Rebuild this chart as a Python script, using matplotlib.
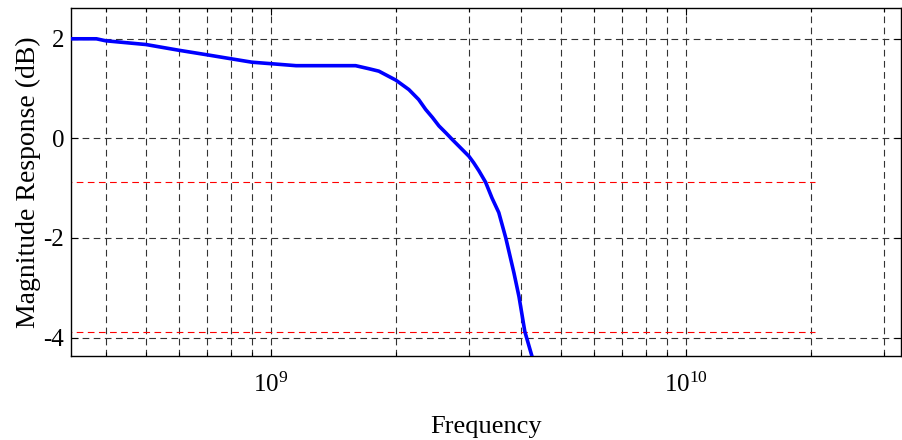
import numpy as np
import matplotlib
matplotlib.use("Agg")
import matplotlib.pyplot as plt
from matplotlib.ticker import LogLocator, NullFormatter, FixedLocator

plt.rcParams['font.family'] = ['Liberation Serif', 'DejaVu Serif']
plt.rcParams['mathtext.fontset'] = 'custom'
plt.rcParams['mathtext.rm'] = 'Liberation Serif'
plt.rcParams['mathtext.it'] = 'Liberation Serif:italic'

# magnitude response
freq = [3.3e8, 3.8e8, 4.0e8, 5.0e8, 6.0e8, 7.0e8, 8.0e8, 9.0e8, 1.0e9,
        1.15e9, 1.6e9, 1.72e9, 1.82e9, 2.0e9, 2.15e9, 2.27e9, 2.36e9,
        2.45e9, 2.54e9, 2.64e9, 2.74e9, 2.84e9, 3.0e9, 3.08e9, 3.17e9,
        3.29e9, 3.41e9, 3.54e9, 3.68e9, 3.85e9, 3.96e9, 4.09e9, 4.26e9,
        4.35e9]
mag_db = [2.0, 2.0, 1.96, 1.885, 1.77, 1.68, 1.60, 1.53, 1.50,
          1.46, 1.46, 1.40, 1.35, 1.17, 0.98, 0.78, 0.58,
          0.42, 0.25, 0.11, -0.03, -0.16, -0.36, -0.49, -0.65,
          -0.88, -1.20, -1.49, -2.0, -2.70, -3.18, -3.88, -4.39,
          -4.6]

# reference levels (passband level and 3 dB below)
ref_levels = [-0.88, -3.88]
ref_span = [3.0e8, 2.05e10]

y_ticks = [-4, -2, 0, 2]

fig = plt.figure(figsize=(9.03, 4.40), dpi=100)
ax = fig.add_axes([0.0786, 0.191, 0.9195, 0.791])

grid_kw = dict(color='#333333', linestyle=(0, (6, 4)), linewidth=0.8)
ax.set_xscale('log')
ax.set_xlim(3.3e8, 3.3e10)
ax.set_ylim(-4.37, 2.62)
ax.xaxis.set_major_locator(LogLocator(base=10))
ax.xaxis.set_minor_locator(LogLocator(base=10, subs=np.arange(2, 10)))
ax.xaxis.set_minor_formatter(NullFormatter())
ax.yaxis.set_major_locator(FixedLocator(y_ticks))
ax.set_yticklabels([str(t) for t in y_ticks])
ax.grid(True, which='major', **grid_kw)
ax.grid(True, which='minor', axis='x', **grid_kw)

for lvl in ref_levels:
    ax.plot(ref_span, [lvl, lvl], color='red', linestyle=(0, (6, 4)), linewidth=0.8)

ax.plot(freq, mag_db, color='blue', linewidth=2.6, zorder=3)

ax.tick_params(which='both', direction='in', top=True, right=True, labelsize=18)
ax.tick_params(which='major', length=5, width=0.8)
ax.tick_params(which='minor', length=3, width=0.8)
ax.tick_params(axis='x', pad=12)
ax.tick_params(axis='y', pad=5)
for s in ax.spines.values():
    s.set_linewidth(1.0)

ax.set_xlabel('Frequency', fontsize=19, labelpad=14)
ax.set_ylabel('Magnitude Response (dB)', fontsize=20, labelpad=2)

fig.savefig('out.png', dpi=100)
